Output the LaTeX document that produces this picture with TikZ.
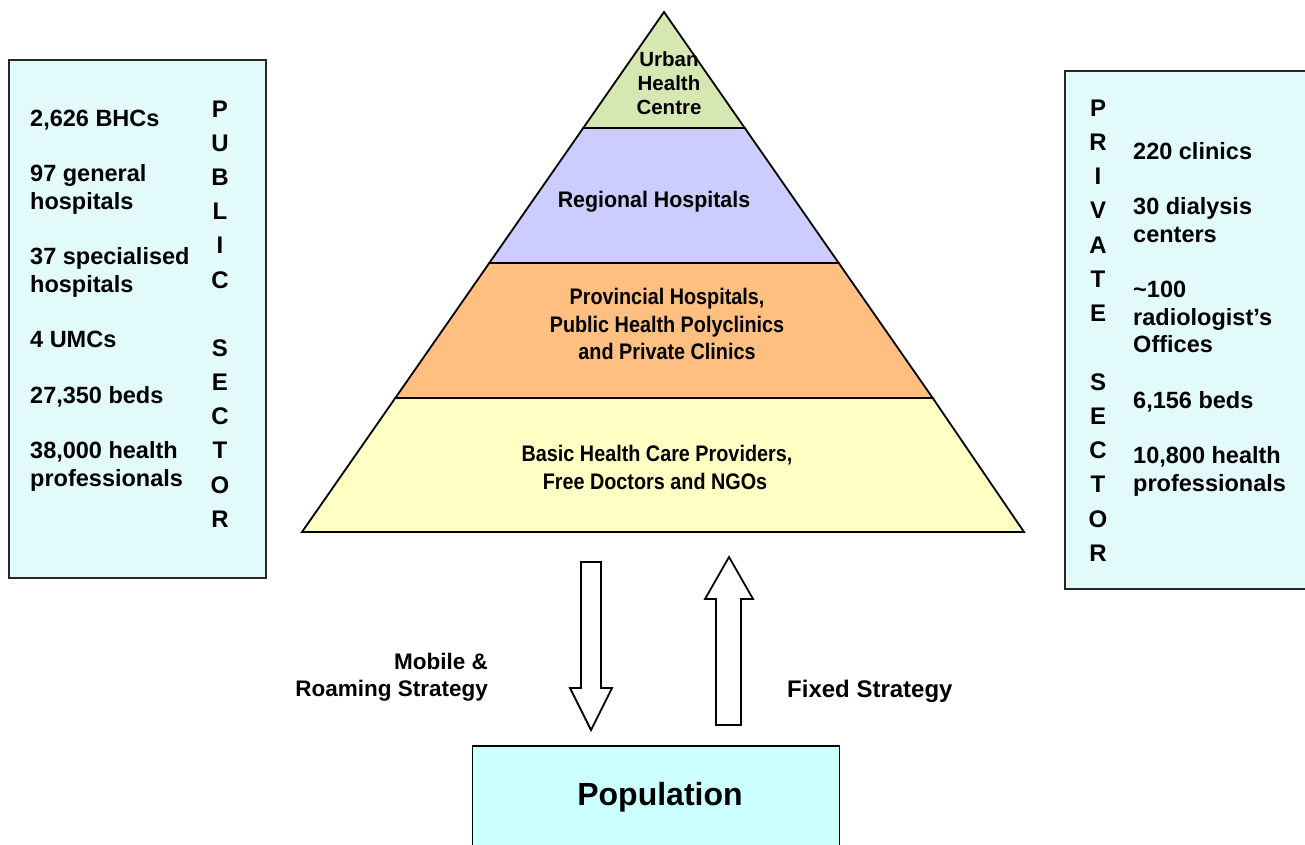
\documentclass[tikz,border=0pt]{standalone}
\usepackage{fontspec}
\usepackage{graphicx}
\setmainfont{Liberation Sans}
\usetikzlibrary{calc}
\definecolor{boxfill}{RGB}{226,250,250}
\definecolor{tiergreen}{RGB}{214,232,178}
\definecolor{tierlav}{RGB}{204,204,255}
\definecolor{tierorange}{RGB}{255,191,128}
\definecolor{tieryellow}{RGB}{255,255,196}
\definecolor{popfill}{RGB}{204,255,255}
\newcommand{\pyrnarrow}[1]{\scalebox{0.88}[1]{#1}}
\tikzset{
  sidebox/.style={draw=black!85, line width=1.8pt, fill=boxfill},
  tier/.style={draw=black, line width=1.8pt},
  blockarrow/.style={draw=black, line width=1.8pt, fill=white, line join=miter},
  listtxt/.style={anchor=base west, inner sep=0pt, font=\fontsize{23.5}{27.7}\selectfont\bfseries},
  lettertxt/.style={anchor=center, inner sep=0pt, font=\fontsize{24}{27.7}\selectfont\bfseries},
  pyrtxt/.style={anchor=base, inner sep=0pt, font=\fontsize{22.5}{27.5}\selectfont\bfseries},
  labtxt/.style={inner sep=0pt, font=\fontsize{22.5}{27.5}\selectfont\bfseries},
}
\begin{document}
\begin{tikzpicture}[x=1pt,y=-1pt]
\useasboundingbox (0,0) rectangle (1305,845);
\clip (0,0) rectangle (1305,845);

% side boxes
\draw[sidebox] (9,60) rectangle (266,578);
\draw[sidebox] (1065,71) rectangle (1320,589);

% pyramid tiers
\coordinate (apex) at (664,12);
\draw[tier, fill=tiergreen] (apex) -- (744.75,128) -- (583.25,128) -- cycle;
\draw[tier, fill=tierlav] (583.25,128) -- (744.75,128) -- (838.7,263) -- (489.3,263) -- cycle;
\draw[tier, fill=tierorange] (489.3,263) -- (838.7,263) -- (932.7,398) -- (395.3,398) -- cycle;
\draw[tier, fill=tieryellow] (395.3,398) -- (932.7,398) -- (1024,532) -- (302,532) -- cycle;

% pyramid texts
\node[pyrtxt, font=\fontsize{20.5}{24}\selectfont\bfseries] (urb1) at (669,67) {Urban};
\node[pyrtxt, font=\fontsize{20.5}{24}\selectfont\bfseries] (urb2) at (669,91) {Health};
\node[pyrtxt, font=\fontsize{20.5}{24}\selectfont\bfseries] (urb3) at (669,115) {Centre};
\node[pyrtxt] (reg) at (654,207) {\scalebox{0.95}[1]{Regional Hospitals}};
\node[pyrtxt] (prov1) at (667,304) {\pyrnarrow{Provincial Hospitals,}};
\node[pyrtxt] (prov2) at (667,332) {\pyrnarrow{Public Health Polyclinics}};
\node[pyrtxt] (prov3) at (667,359.5) {\pyrnarrow{and Private Clinics}};
\node[pyrtxt] (basic1) at (657,461.5) {\pyrnarrow{Basic Health Care Providers,}};
\node[pyrtxt] (basic2) at (655,489) {\pyrnarrow{Free Doctors and NGOs}};

% public sector list
\node[listtxt] (pu1) at (30,126.4) {2,626 BHCs};
\node[listtxt] (pu2a) at (30,181.8) {97 general};
\node[listtxt] (pu2b) at (30,209.4) {hospitals};
\node[listtxt] (pu3a) at (30,264.9) {37 specialised};
\node[listtxt] (pu3b) at (30,292.4) {hospitals};
\node[listtxt] (pu4) at (30,347.9) {4 UMCs};
\node[listtxt] (pu5) at (30,403.4) {27,350 beds};
\node[listtxt] (pu6a) at (30,458.4) {38,000 health};
\node[listtxt] (pu6b) at (30,486.4) {professionals};
\foreach \L [count=\k from 0] in {P,U,B,L,I,C,{},S,E,C,T,O,R}
  \node[lettertxt] (publ\k) at (220,109+34.17*\k) {\L};

% private sector list
\node[listtxt] (pr1) at (1133,159.4) {220 clinics};
\node[listtxt] (pr2a) at (1133,214.9) {30 dialysis};
\node[listtxt] (pr2b) at (1133,242.4) {centers};
\node[listtxt] (pr3a) at (1133,297.9) {\textasciitilde 100};
\node[listtxt] (pr3b) at (1133,325.4) {radiologist’s};
\node[listtxt] (pr3c) at (1133,352.9) {Offices};
\node[listtxt] (pr4) at (1133,408.4) {6,156 beds};
\node[listtxt] (pr5a) at (1133,463.9) {10,800 health};
\node[listtxt] (pr5b) at (1133,491.4) {professionals};
\foreach \L [count=\k from 0] in {P,R,I,V,A,T,E,{},S,E,C,T,O,R}
  \node[lettertxt] (priv\k) at (1098,108+34.23*\k) {\L};

% population box
\node[draw=black, line width=1.8pt, fill=popfill, minimum width=367pt, minimum height=120pt, anchor=north west, inner sep=0pt] (pop) at (471.5,745) {};
\node[inner sep=0pt, anchor=base, font=\fontsize{32}{36}\selectfont\bfseries] (poptxt) at (660,805) {Population};

% block arrows
\coordinate (dtop) at (591,562);
\coordinate (dtip) at (591,730);
\draw[blockarrow] ($(dtop)+(-10,0)$) -- ($(dtop)+(10,0)$) -- (601,688) -- (612,688) -- (dtip) -- (570,688) -- (581,688) -- cycle;
\coordinate (utip) at (729,557);
\coordinate (ubot) at (728.5,725);
\draw[blockarrow] ($(ubot)+(-12.5,0)$) -- ($(ubot)+(12.5,0)$) -- (741,599) -- (753,599) -- (utip) -- (705,599) -- (716,599) -- cycle;

% arrow labels
\node[labtxt, anchor=base east] (mob1) at (488,669) {Mobile \&};
\node[labtxt, anchor=base east] (mob2) at (488,696) {Roaming Strategy};
\node[labtxt, anchor=base west, font=\fontsize{24}{27.5}\selectfont\bfseries] (fixed) at (787,697) {Fixed Strategy};
\end{tikzpicture}
\end{document}
